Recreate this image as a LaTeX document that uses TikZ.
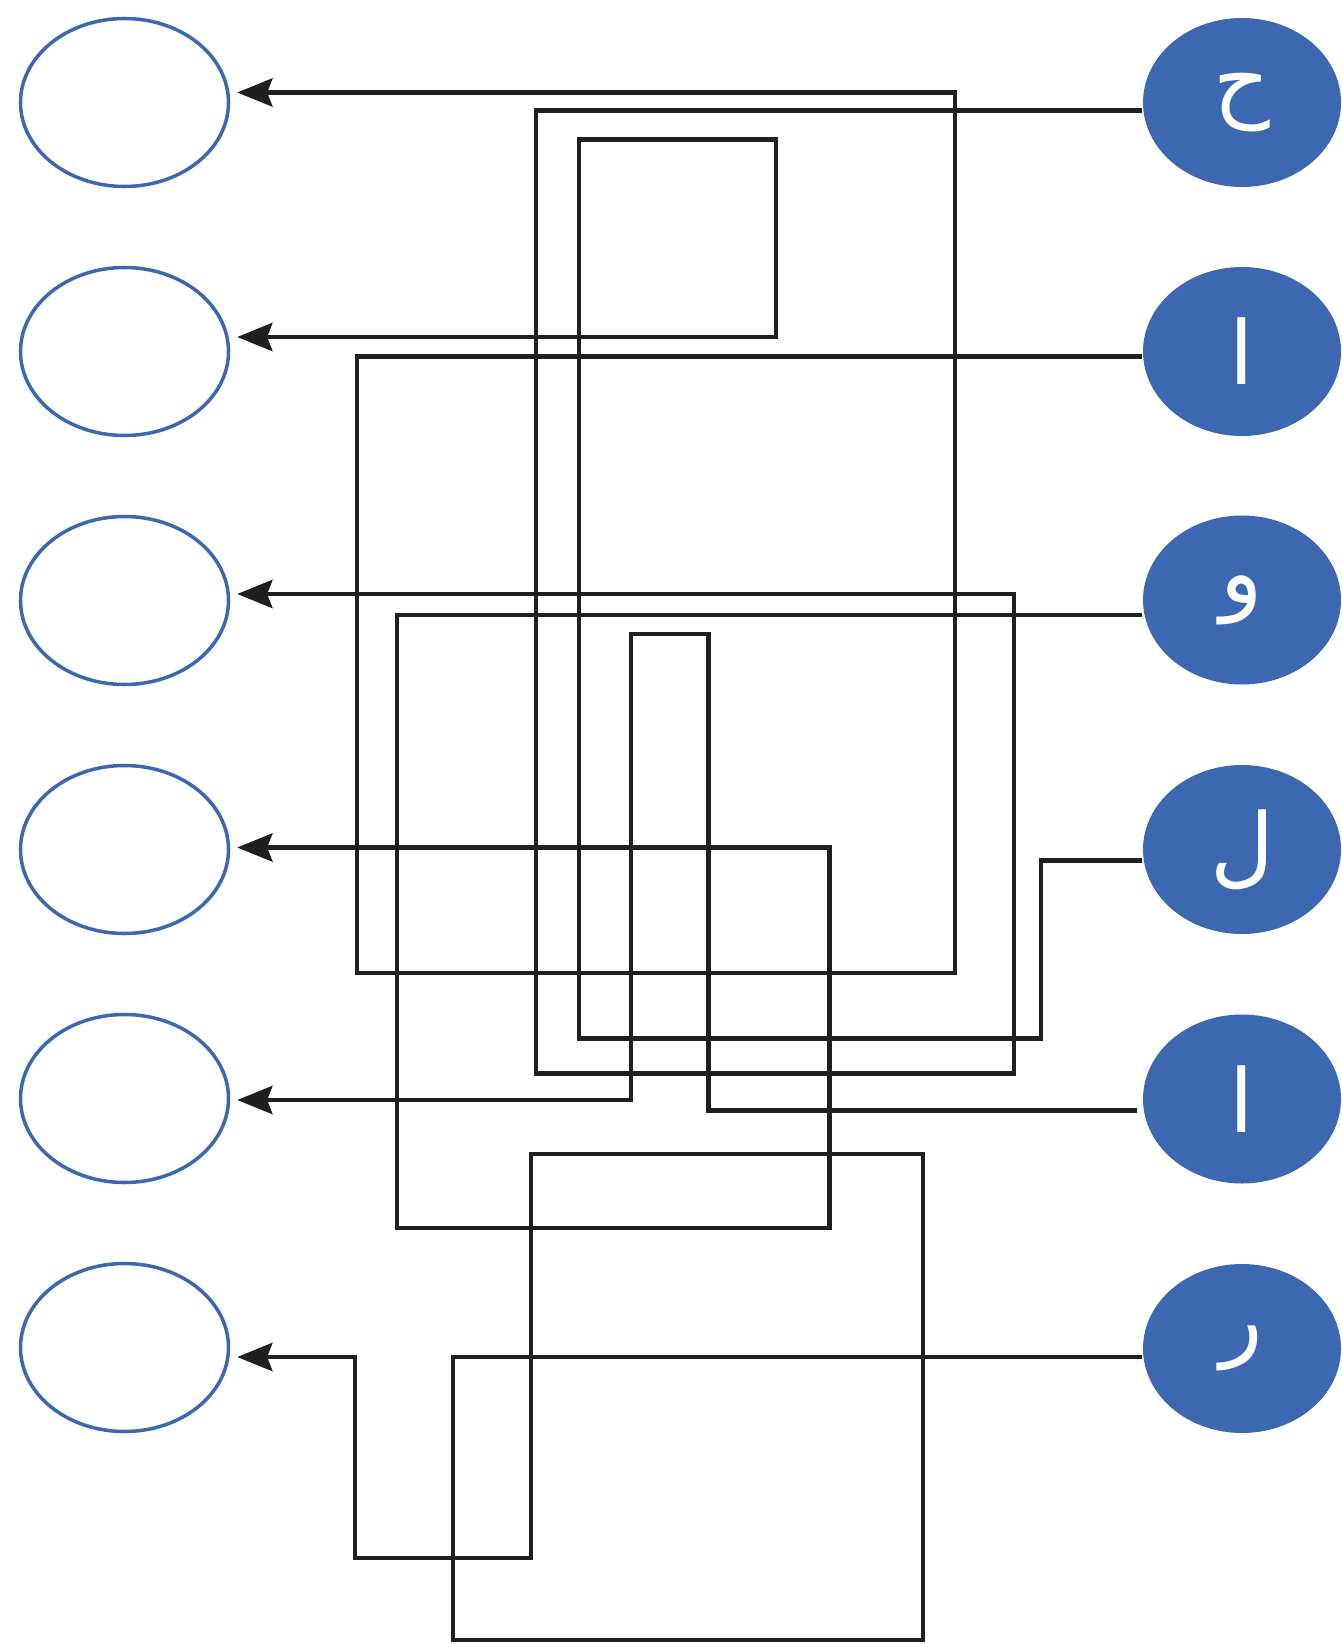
\documentclass[tikz,border=0pt]{standalone}
\usepackage{fontspec}
\newfontfamily\arabicfont[Script=Arabic]{DejaVu Sans}
\TeXXeTstate=1
\usetikzlibrary{arrows.meta,shapes.geometric}
\definecolor{cblue}{RGB}{60,104,178}
\begin{document}
\begin{tikzpicture}[x=0.1mm,y=-0.1mm,
  lell/.style={ellipse,draw=cblue,line width=1pt,minimum width=20.8mm,minimum height=16.8mm,inner sep=0pt},
  rell/.style={ellipse,fill=cblue,minimum width=19.8mm,minimum height=16.9mm,inner sep=0pt,text=white,font=\arabicfont\fontsize{25pt}{30pt}\selectfont},
  conn/.style={line width=1.3pt,draw=black!88},
  arr/.style={conn,-{Stealth[length=10pt,width=8pt,inset=1.5pt]},shorten >=0.7mm}]
\useasboundingbox (0,0) rectangle (1341,1644);
% left (empty) ellipses
\node[lell] (l1) at (124.5,102.5) {};
\node[lell] (l2) at (124.5,351.5) {};
\node[lell] (l3) at (124.5,600.5) {};
\node[lell] (l4) at (124.5,849.5) {};
\node[lell] (l5) at (124.5,1098.5) {};
\node[lell] (l6) at (124.5,1347.5) {};
% right (filled) ellipses with letters
\node[rell] (r1) at (1242,102.5) {\beginR ح\endR};
\node[rell] (r2) at (1242,351.5) {\beginR ا\endR};
\node[rell] (r3) at (1242,600) {\beginR و\endR};
\node[rell] (r4) at (1242,849.5) {\beginR ل\endR};
\node[rell] (r5) at (1242,1099) {\beginR ا\endR};
\node[rell] (r6) at (1242,1348.5) {\beginR ر\endR};
% connectors
\draw[arr] (r1.west |- 0,110.7) -- (536,110.7) |- (1014,1073.5) |- (l3.east |- 0,594);
\draw[arr] (r2.west |- 0,356.5) -- (357,356.5) |- (955,973) |- (l1.east |- 0,92.5);
\draw[arr] (r4.west |- 0,860.5) -- (1041,860.5) |- (579,1038.5) |- (776,139.3) |- (l2.east |- 0,337);
\draw[arr] (r3.west |- 0,615) -- (397,615) |- (829.5,1228) |- (l4.east |- 0,847.5);
\draw[arr,shorten <=0.5mm] (r5.west |- 0,1110.5) -- (708.5,1110.5) |- (631,634) |- (l5.east |- 0,1100);
\draw[arr] (r6.west |- 0,1357) -- (453,1357) |- (923,1640) |- (531,1154) |- (355,1558) |- (l6.east |- 0,1357);
\end{tikzpicture}
\end{document}
